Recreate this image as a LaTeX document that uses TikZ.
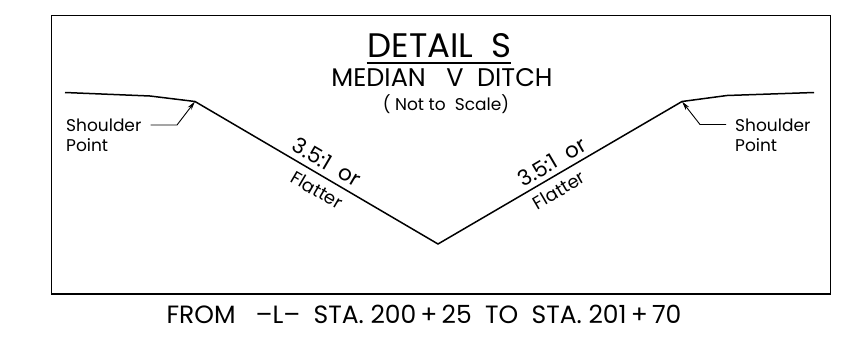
\documentclass[tikz,border=0pt]{standalone}
\usepackage{fontspec}
\setmainfont{Poppins}
\usetikzlibrary{arrows.meta}
\tikzset{
  lbl/.style={inner sep=0pt,text=black,font=\fontsize{17}{17}\selectfont},
  ground/.style={line width=1.5pt,line join=miter},
  leader/.style={line width=0.9pt,-{Stealth[length=9pt,width=4.5pt]}},
}
\begin{document}
\begin{tikzpicture}[x=1pt,y=-1pt]
\useasboundingbox (0,0) rectangle (849,340);
\draw[line width=1.6pt] (51.5,15.5) rectangle (830.5,294);
\coordinate (l0) at (65,92.5);\coordinate (l1) at (150,96);\coordinate (ls) at (195,101.5);
\coordinate (v) at (438,244);
\coordinate (rs) at (682,101.5);\coordinate (r1) at (727,95.5);\coordinate (r0) at (814,92.5);
\draw[ground] (l0)--(l1)--(ls)--(v)--(rs)--(r1)--(r0);
\node[lbl,font=\fontsize{34}{34}\selectfont,anchor=base] (title) at (439.5,57) {DETAIL\ \ S};
\draw[line width=1.6pt] (366.5,63) coordinate (ua) -- (511,63) coordinate (ub);
\node[lbl,font=\fontsize{25.5}{25.5}\selectfont,anchor=base] (sub) at (442,86) {MEDIAN\ \ \ V\ \ DITCH};
\node[lbl,font=\fontsize{17}{17}\selectfont,anchor=base] (nts) at (446,110) {( Not to\ \ Scale)};
\node[lbl,anchor=base west] (ls1) at (66,131) {Shoulder};
\node[lbl,anchor=base west] (lp1) at (66,151) {Point};
\node[lbl,anchor=base west] (rs1) at (735,131) {Shoulder};
\node[lbl,anchor=base west] (rp1) at (735,151) {Point};
\coordinate (lk) at (177,125);\coordinate (rk) at (700,124.5);
\draw[leader] (ls1.east |- lk) ++(9,0) -- (lk) -- (ls);
\draw[leader] (rs1.west |- rk) ++(-9,0) -- (rk) -- (rs);
\node[lbl,font=\fontsize{21.5}{21.5}\selectfont,rotate=-30.4] (sl1) at (327,162) {3.5:1\ \ or};
\node[lbl,font=\fontsize{18}{18}\selectfont,rotate=-30.4] (fl1) at (317,190) {Flatter};
\node[lbl,font=\fontsize{21.5}{21.5}\selectfont,rotate=30.4] (sl2) at (552,162) {3.5:1\ \ or};
\node[lbl,font=\fontsize{18}{18}\selectfont,rotate=30.4] (fl2) at (559,190) {Flatter};
\node[lbl,font=\fontsize{25}{25}\selectfont,anchor=base] (from) at (424,323) {FROM\ \ \ –L–\ \ STA. 200$\,$+$\,$25\ \ TO\ \ STA. 201$\,$+$\,$70};
\end{tikzpicture}
\end{document}
